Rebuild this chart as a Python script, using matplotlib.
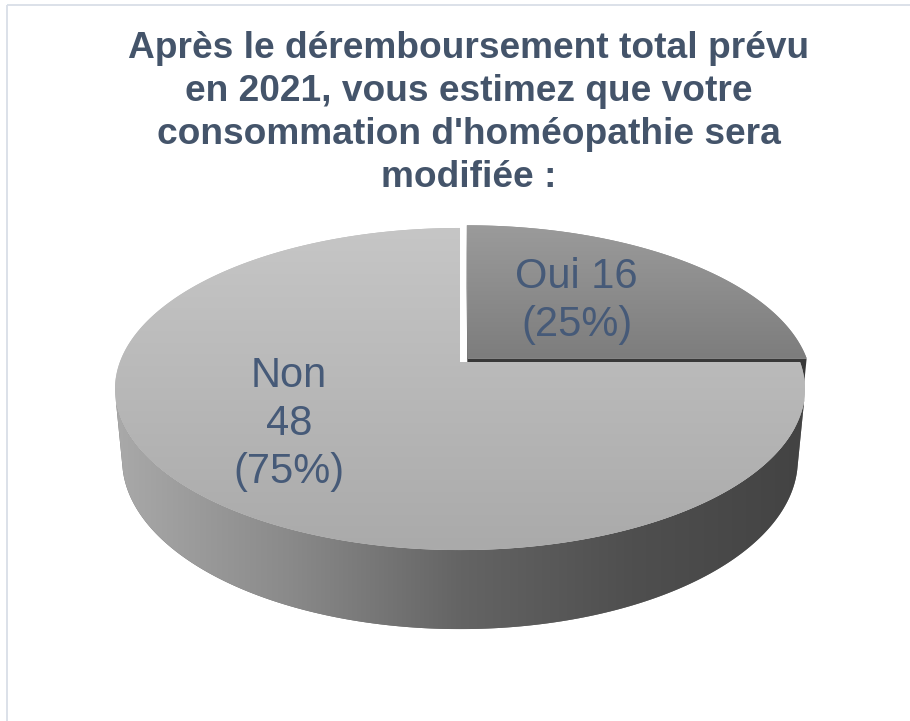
import numpy as np
import matplotlib
matplotlib.use("Agg")
import matplotlib.pyplot as plt
from matplotlib.patches import Polygon, Rectangle
from matplotlib.colors import to_rgb

# ---------------- data ----------------
categories = ["Oui", "Non"]
values = [16, 48]
label_seps = [" ", "\n"]          # how Excel wrapped "name value"
title_lines = [
    "Après le déremboursement total prévu",
    "en 2021, vous estimez que votre",
    "consommation d'homéopathie sera",
    "modifiée :",
]

# ---------------- styles ----------------
top_stops = [
    [(0.0, "#9B9B9B"), (1.0, "#7D7D7D")],   # Oui top face (vertical)
    [(0.0, "#C6C6C6"), (1.0, "#AAAAAA")],   # Non top face (vertical)
]
side_stops = [(0.0, "#A9A9A9"), (0.25, "#8A8A8A"), (0.5, "#646464"),
              (0.75, "#4F4F4F"), (1.0, "#434343")]
cut_color = "#383838"
explode = [0.033, 0.0]
TXT = "#44546A"
LBL = "#465A78"
FONT = ["Liberation Sans", "DejaVu Sans"]

W, H = 910, 721
fig = plt.figure(figsize=(W / 100, H / 100), dpi=100)
ax = fig.add_axes([0, 0, 1, 1])
ax.axis("off")

# ---------------- perspective camera ----------------
CX, CY = 460.0, 362.0
PHI = np.radians(27.4)
DIST = 5.29
FOC = 1799.0
THICK = 0.236
sphi, cphi = np.sin(PHI), np.cos(PHI)
CAM = np.array([0.0, DIST * sphi, -DIST * cphi])


def project(x, y, z):
    yc = y * cphi + z * sphi
    depth = DIST + z * cphi - y * sphi
    return np.column_stack([CX + FOC * x / depth, CY - FOC * yc / depth])


def interp_colors(stops, n=256):
    t = np.linspace(0, 1, n)
    pos = [s[0] for s in stops]
    cols = np.array([to_rgb(s[1]) for s in stops])
    return np.stack([np.interp(t, pos, cols[:, k]) for k in range(3)], axis=-1)


def grad_fill(verts, stops, axis, zorder):
    verts = np.asarray(verts)
    x0, x1 = verts[:, 0].min(), verts[:, 0].max()
    y0, y1 = verts[:, 1].min(), verts[:, 1].max()
    rgb = interp_colors(stops)
    img = rgb[:, None, :] if axis == "y" else rgb[None, :, :]
    base = Polygon(verts, closed=True, facecolor=rgb.mean(axis=0),
                   edgecolor="none", zorder=zorder)
    ax.add_patch(base)
    im = ax.imshow(img, extent=(x0, x1, y1, y0), origin="upper",
                   aspect="auto", interpolation="bilinear", zorder=zorder + 0.01)
    im.set_clip_path(base)


def dvec(theta_deg):
    t = np.radians(theta_deg)
    return np.array([np.sin(t), 0.0, np.cos(t)])


# ---------------- build slices ----------------
total = float(sum(values))
slices = []
start = 0.0
for i, (cat, val) in enumerate(zip(categories, values)):
    th0 = start
    th1 = start + 360.0 * val / total
    mid = 0.5 * (th0 + th1)
    off = explode[i] * dvec(mid)
    slices.append(dict(i=i, th0=th0, th1=th1, off=off,
                       depth=(off + 0.5 * dvec(mid))[2]))
    start = th1

# far slices first
slices.sort(key=lambda s: -s["depth"])

z = 1.0
for s in slices:
    i, th0, th1, off = s["i"], s["th0"], s["th1"], s["off"]
    th = np.linspace(th0, th1, 400)
    rx = off[0] + np.sin(np.radians(th))
    rz = off[2] + np.cos(np.radians(th))

    # radial cut faces
    for edge_th, n_th in ((th0, th0 - 90.0), (th1, th1 + 90.0)):
        n = dvec(n_th)
        if np.dot(n, CAM - off) > 1e-6:
            d = dvec(edge_th)
            px = np.array([off[0], off[0] + d[0], off[0] + d[0], off[0]])
            py = np.array([0.0, 0.0, -THICK, -THICK])
            pz = np.array([off[2], off[2] + d[2], off[2] + d[2], off[2]])
            ax.add_patch(Polygon(project(px, py, pz), closed=True,
                                 facecolor=cut_color, edgecolor="none", zorder=z))
    z += 1

    # outer rim (only the part facing the camera)
    nx, nz = np.sin(np.radians(th)), np.cos(np.radians(th))
    vis = nx * (CAM[0] - rx) + nz * (CAM[2] - rz) > 0
    if vis.any():
        idx = np.where(vis)[0]
        runs = np.split(idx, np.where(np.diff(idx) > 1)[0] + 1)
        for r in runs:
            top = project(rx[r], np.zeros(len(r)), rz[r])
            bot = project(rx[r], np.full(len(r), -THICK), rz[r])
            verts = np.vstack([top, bot[::-1]])
            grad_fill(verts, side_stops, "x", z)
    z += 1

    # top face
    cx_ = np.concatenate([[off[0]], rx])
    cz_ = np.concatenate([[off[2]], rz])
    verts = project(cx_, np.zeros(len(cx_)), cz_)
    grad_fill(verts, top_stops[i], "y", z)
    z += 1

# ---------------- data labels ----------------
label_anchor = {"Oui": (576.5, 288.0), "Non": (289.0, 386.7)}
LINE_GAP = 48.3
for cat, val, sep in zip(categories, values, label_seps):
    pct = int(round(100.0 * val / total))
    text = f"{cat}{sep}{val}\n({pct}%)"
    x0, y0 = label_anchor[cat]
    for k, line in enumerate(text.split("\n")):
        ax.text(x0, y0 + k * LINE_GAP, line, ha="center", va="baseline",
                fontsize=30, color=LBL, family=FONT, zorder=50)

# ---------------- title ----------------
for k, line in enumerate(title_lines):
    ax.text(469, 58.3 + k * 42.8, line, ha="center", va="baseline",
            fontsize=26.7, fontweight="bold", color=TXT, family=FONT, zorder=50)

# chart-area border
ax.add_patch(Rectangle((7, 5), W, H, fill=False, edgecolor="#D9DEE7",
                       linewidth=1.3, zorder=60))

ax.set_xlim(0, W)
ax.set_ylim(H, 0)
fig.savefig("out.png", dpi=100, facecolor="white")
